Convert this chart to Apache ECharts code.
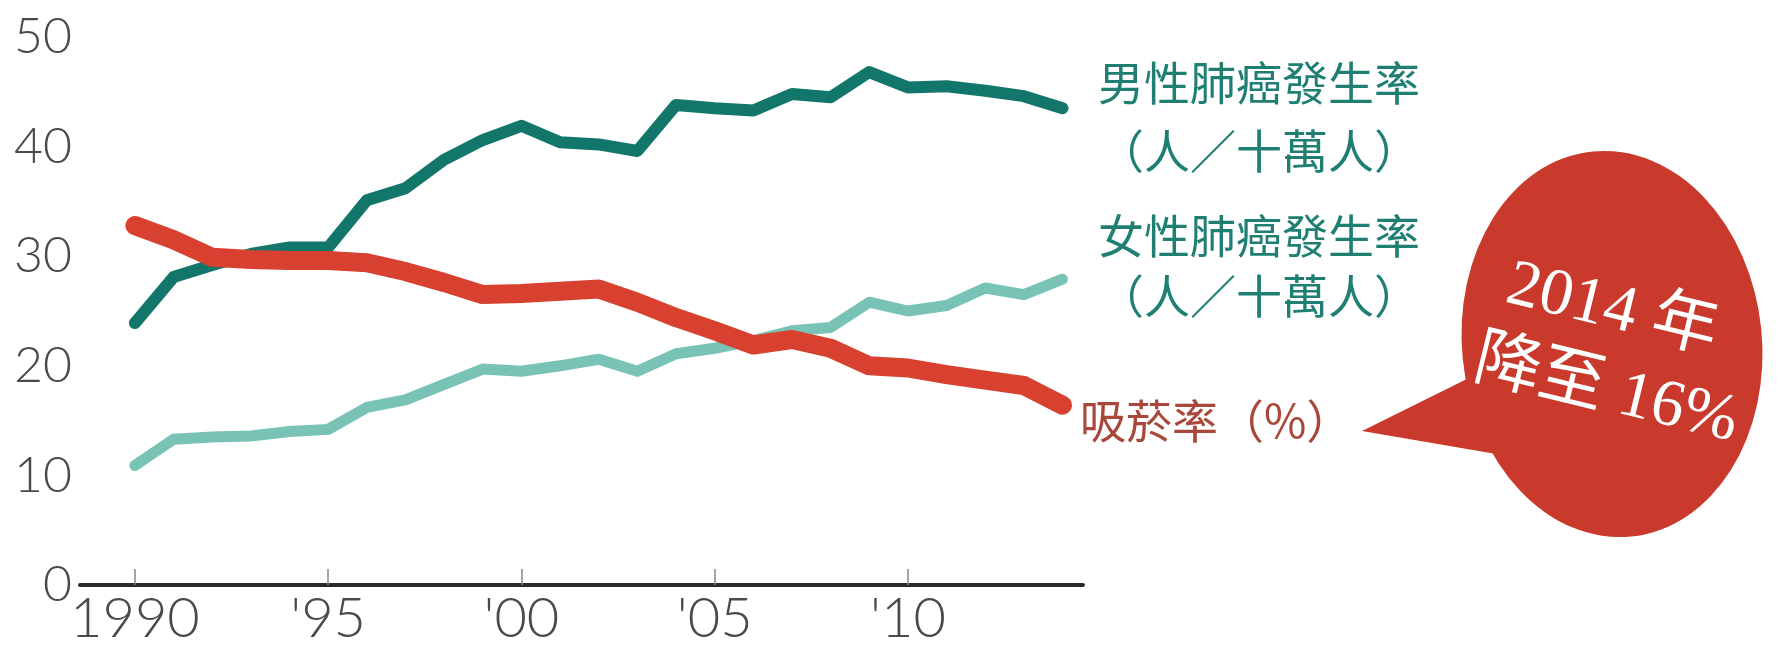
<!DOCTYPE html>
<html>
<head>
<meta charset="utf-8">
<script src="https://cdn.jsdelivr.net/npm/echarts@6/dist/echarts.min.js"></script>
<style>
  html, body { margin: 0; padding: 0; background: #ffffff; }
  #chart { width: 1787px; height: 653px; }
</style>
</head>
<body>
<div id="chart"></div>
<script>
// ---- data ----
const years = [1990,1991,1992,1993,1994,1995,1996,1997,1998,1999,2000,2001,2002,2003,2004,2005,2006,2007,2008,2009,2010,2011,2012,2013,2014];
const maleLungCancer   = [23.9,28.1,29.2,30.2,30.8,30.8,35.1,36.2,38.8,40.6,41.9,40.4,40.2,39.6,43.8,43.5,43.3,44.8,44.5,46.8,45.4,45.5,45.1,44.6,43.5];
const femaleLungCancer = [10.9,13.3,13.5,13.6,14.0,14.2,16.2,16.9,18.3,19.7,19.5,20.0,20.6,19.5,21.1,21.6,22.3,23.2,23.5,25.8,25.0,25.5,27.1,26.5,27.9];
const smokingRate      = [32.8,31.5,29.9,29.7,29.6,29.6,29.4,28.6,27.6,26.5,26.6,26.8,27.0,25.8,24.4,23.2,21.9,22.4,21.6,20.0,19.8,19.2,18.7,18.2,16.4];
const xTickYears = [1990,1995,2000,2005,2010];
const yTicks = [0,10,20,30,40,50];
const labelMale   = ['男性肺癌發生率', '（人／十萬人）'];
const labelFemale = ['女性肺癌發生率', '（人／十萬人）'];
const labelSmoke  = '吸菸率（%）';
const bubbleLines = ['2014 年', '降至 16%'];

function pairs(vals) { return years.map((y, i) => [y, vals[i]]); }

const chart = echarts.init(document.getElementById('chart'), null, { renderer: 'canvas' });

const axisFont = 'Lato, "Noto Sans", sans-serif';
const cjkFont = '"Noto Sans CJK TC", "Noto Sans CJK SC", sans-serif';
const bubbleFont = '66px "Liberation Serif", "Noto Sans CJK TC", serif';

const option = {
  backgroundColor: '#ffffff',
  animation: false,
  grid: { left: 80, right: 704, top: 37, bottom: 68, containLabel: false },
  xAxis: {
    type: 'value',
    min: 1988.58,
    max: 2014.53,
    splitLine: { show: false },
    axisLine: { show: true, lineStyle: { color: '#2a2a2a', width: 4 } },
    axisTick: { show: true, inside: true, length: 16, customValues: xTickYears, lineStyle: { color: '#888', width: 1.5 } },
    axisLabel: {
      customValues: xTickYears,
      margin: 6,
      color: '#4a4a4a',
      fontFamily: axisFont,
      fontWeight: 300,
      fontSize: 56,
      formatter: v => v === 1990 ? '1990' : "'" + String(v).slice(2)
    }
  },
  yAxis: {
    type: 'value',
    min: 0, max: 50, interval: 10,
    splitLine: { show: false },
    axisLine: { show: false },
    axisTick: { show: false },
    axisLabel: { margin: 8, color: '#4a4a4a', fontFamily: axisFont, fontWeight: 300, fontSize: 50, customValues: yTicks }
  },
  series: [
    {
      name: '女性肺癌發生率', type: 'line', data: pairs(femaleLungCancer),
      showSymbol: false, symbol: 'none',
      lineStyle: { color: '#78c3b6', width: 11, cap: 'round', join: 'round' }, z: 2
    },
    {
      name: '男性肺癌發生率', type: 'line', data: pairs(maleLungCancer),
      showSymbol: false, symbol: 'none',
      lineStyle: { color: '#12776a', width: 12, cap: 'round', join: 'round' }, z: 3
    },
    {
      name: '吸菸率', type: 'line', data: pairs(smokingRate),
      showSymbol: false, symbol: 'none',
      lineStyle: { color: '#d8412f', width: 19, cap: 'round', join: 'round' }, z: 4
    }
  ],
  graphic: [
    { type: 'text', left: 1098, top: 60, style: { text: labelMale[0], fill: '#1f7f73', font: '46px ' + cjkFont } },
    { type: 'text', left: 1098, top: 128, style: { text: labelMale[1], fill: '#1f7f73', font: '46px ' + cjkFont } },
    { type: 'text', left: 1098, top: 213, style: { text: labelFemale[0], fill: '#1f7f73', font: '46px ' + cjkFont } },
    { type: 'text', left: 1098, top: 273, style: { text: labelFemale[1], fill: '#1f7f73', font: '46px ' + cjkFont } },
    { type: 'text', left: 1080, top: 398, style: { text: labelSmoke, fill: '#a9473b', font: '46px ' + cjkFont } },
    // speech bubble tail
    { type: 'polygon', z: 10, shape: { points: [[1362, 431], [1485, 370], [1502, 455]] }, style: { fill: '#c93a2c' } },
    // speech bubble body (ellipse)
    { type: 'circle', z: 11, x: 1612, y: 344, scaleX: 1, scaleY: 1.29, rotation: 0.1,
      shape: { cx: 0, cy: 0, r: 150 }, style: { fill: '#c93a2c' } },
    { type: 'text', z: 12, x: 1612, y: 310, rotation: -0.24,
      style: { text: bubbleLines[0], fill: '#ffffff', font: bubbleFont, align: 'center', verticalAlign: 'middle' } },
    { type: 'text', z: 12, x: 1606, y: 392, rotation: -0.24,
      style: { text: bubbleLines[1], fill: '#ffffff', font: bubbleFont, align: 'center', verticalAlign: 'middle' } }
  ]
};

chart.setOption(option);
</script>
</body>
</html>
